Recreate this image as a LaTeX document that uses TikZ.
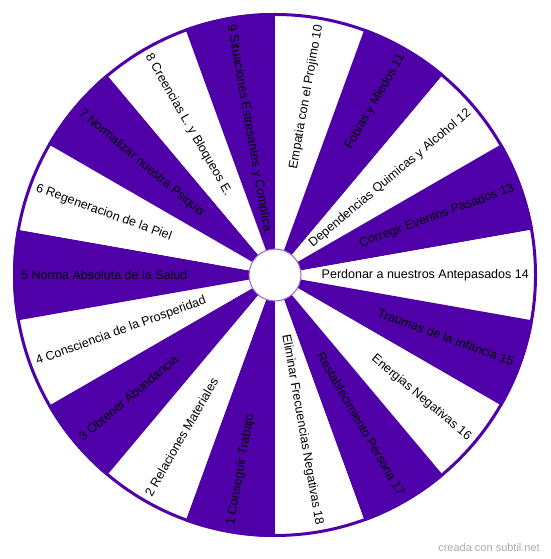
\documentclass[tikz,border=0pt]{standalone}
\usepackage{fontspec}
\setmainfont{Liberation Sans}
\usetikzlibrary{calc}
\definecolor{wheelpurple}{RGB}{80,0,168}
\definecolor{ringlight}{RGB}{150,100,210}
\definecolor{markgray}{RGB}{170,170,170}
\begin{document}
\begin{tikzpicture}[x=1pt,y=1pt,
  seglabel/.style={font=\fontsize{12.5}{14}\selectfont, text=black, inner sep=0pt},
  watermark/.style={font=\fontsize{11}{13}\selectfont, text=markgray, inner sep=0pt}]
\useasboundingbox (0,0) rectangle (550,559);
\fill[white] (0,0) rectangle (550,559);
\coordinate (c) at (275,284);
\def\R{262}
\foreach \k/\t in {1/{1 Conseguir Trabajo},2/{2 Relaciones Materiales},3/{3 Obtener Abundancia},
  4/{4 Consciencia de la Prosperidad},5/{5 Norma Absoluta de la Salud},6/{6 Regeneracion de la Piel},
  7/{7 Normalizar nuestra Psiquis},8/{8 Creencias L. y Bloqueos E.},9/{9 Situaciones Estresantes y Complica.},
  10/{Empatia con el Projimo 10},11/{Fobias y Miedos 11},12/{Dependencias Quimicas y Alcohol 12},
  13/{Corregir Eventos Pasados 13},14/{Perdonar a nuestros Antepasados 14},15/{Traumas de la Infancia 15},
  16/{Energias Negativas 16},17/{Restablecimiento Persona 17},18/{Eliminar Frecuencias Negativas 18}}{
  \pgfmathsetmacro{\a}{280-20*\k}
  \pgfmathsetmacro{\isodd}{mod(\k,2)}
  \ifdim\isodd pt>0.5pt
    \fill[wheelpurple] (c) -- ++(\a-10:\R) arc[start angle=\a-10, end angle=\a+10, radius=\R] -- cycle;
  \else
    \fill[white] (c) -- ++(\a-10:\R) arc[start angle=\a-10, end angle=\a+10, radius=\R] -- cycle;
  \fi
  \ifnum\k<10
    \node[seglabel, anchor=west, rotate=\a-180] (l\k) at ($(c)+(\a:254)$) {\t};
  \else
    \node[seglabel, anchor=east, rotate=\a] (l\k) at ($(c)+(\a:254)$) {\t};
  \fi
}
\draw[wheelpurple, line width=3pt] (c) circle[radius=\R-1.5];
\filldraw[fill=white, draw=ringlight, line width=1pt] (c) circle[radius=26];
\node[watermark, anchor=east] (wm) at (540,11) {creada con subtil.net};
\end{tikzpicture}
\end{document}
